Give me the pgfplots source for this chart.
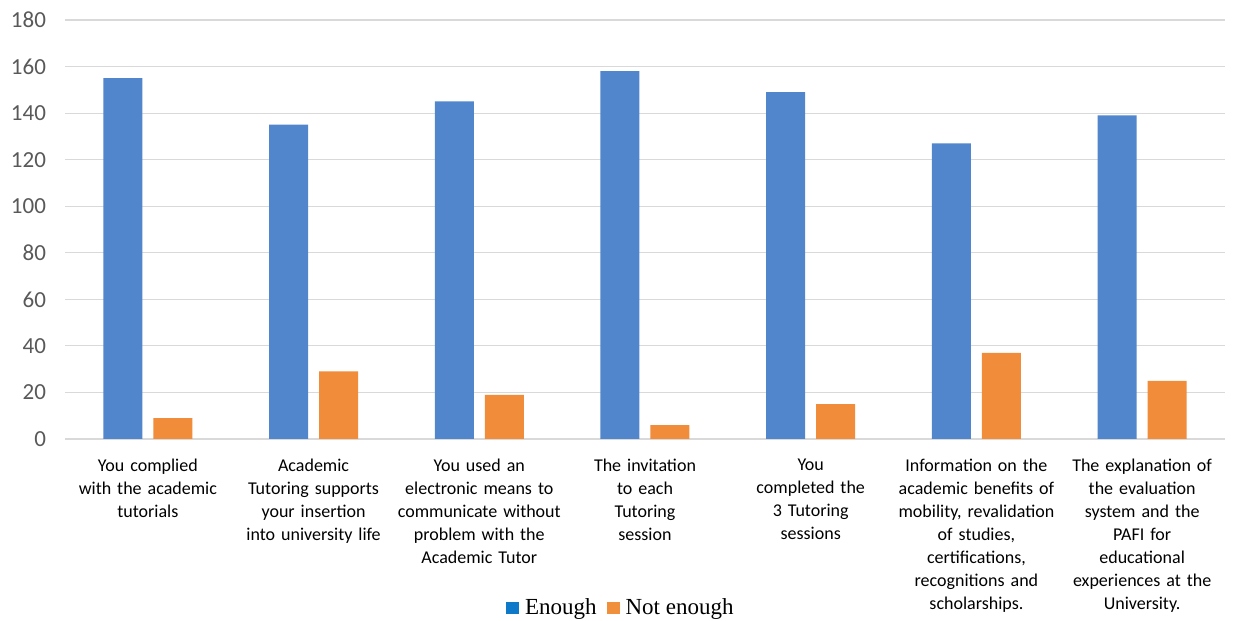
\documentclass[border=0pt]{standalone}
\usepackage{pgfplots}
\pgfplotsset{compat=1.18}
\usepackage{fontspec}
\setmainfont{Carlito}
\newfontfamily\legfont{Liberation Serif}
\definecolor{barblue}{HTML}{5186CD}
\definecolor{barorange}{HTML}{F08C3A}
\definecolor{legblue}{HTML}{0E79C8}
\definecolor{legorange}{HTML}{F0903C}
\definecolor{gridgray}{HTML}{D9D9D9}
\definecolor{ticktext}{HTML}{595959}
\begin{document}
\begin{tikzpicture}
\useasboundingbox (-32.5pt,-91pt) rectangle (587pt,219.5pt);
\begin{axis}[
 at={(0pt,0pt)}, anchor=south west, scale only axis,
 width=580pt, height=209.5pt,
 xmin=-0.5, xmax=6.5, ymin=0, ymax=180,
 ytick={0,20,...,180},
 axis line style={draw=none},
 ymajorgrids, grid style={gridgray, line width=0.6pt},
 major tick length=0pt,
 xtick={0,...,6},
 xticklabels={
  {You complied\\with the academic\\tutorials},
  {Academic\\Tutoring supports\\your insertion\\into university life},
  {You used an\\electronic means to\\communicate without\\problem with the\\Academic Tutor},
  {The invitation\\to each\\Tutoring\\session},
  {You\\completed the\\3 Tutoring\\sessions},
  {Information on the\\academic benefits of\\mobility, revalidation\\of studies,\\certifications,\\recognitions and\\scholarships.},
  {The explanation of\\the evaluation\\system and the\\PAFI for\\educational\\experiences at the\\University.}},
 xticklabel style={font=\fontsize{9}{11.5}\selectfont, text width=90pt, align=center, anchor=north, yshift=-6.5pt},
 yticklabel style={font=\fontsize{11.5}{12}\selectfont, color=ticktext, xshift=-6pt},
 /pgf/number format/assume math mode=true,
 ybar=5.5pt, bar width=19.5pt,
 legend style={at={(0.480,-0.4033)}, anchor=center, draw=none, fill=none,
   font=\legfont\fontsize{11.5}{13}\selectfont,
   /tikz/every odd column/.append style={column sep=1pt},
   /tikz/every even column/.append style={column sep=3pt}},
 legend columns=-1,
]
\addplot[fill=barblue, draw=none, legend image code/.code={\fill[legblue] (0pt,-3.2pt) rectangle (6.5pt,3.2pt);}] coordinates {(0,155) (1,135) (2,145) (3,158) (4,149) (5,127) (6,139)};
\addlegendentry{Enough}
\addplot[fill=barorange, draw=none, legend image code/.code={\fill[legorange] (0pt,-3.2pt) rectangle (6.5pt,3.2pt);}] coordinates {(0,9) (1,29) (2,19) (3,6) (4,15) (5,37) (6,25)};
\addlegendentry{Not enough}
\end{axis}
\end{tikzpicture}
\end{document}
